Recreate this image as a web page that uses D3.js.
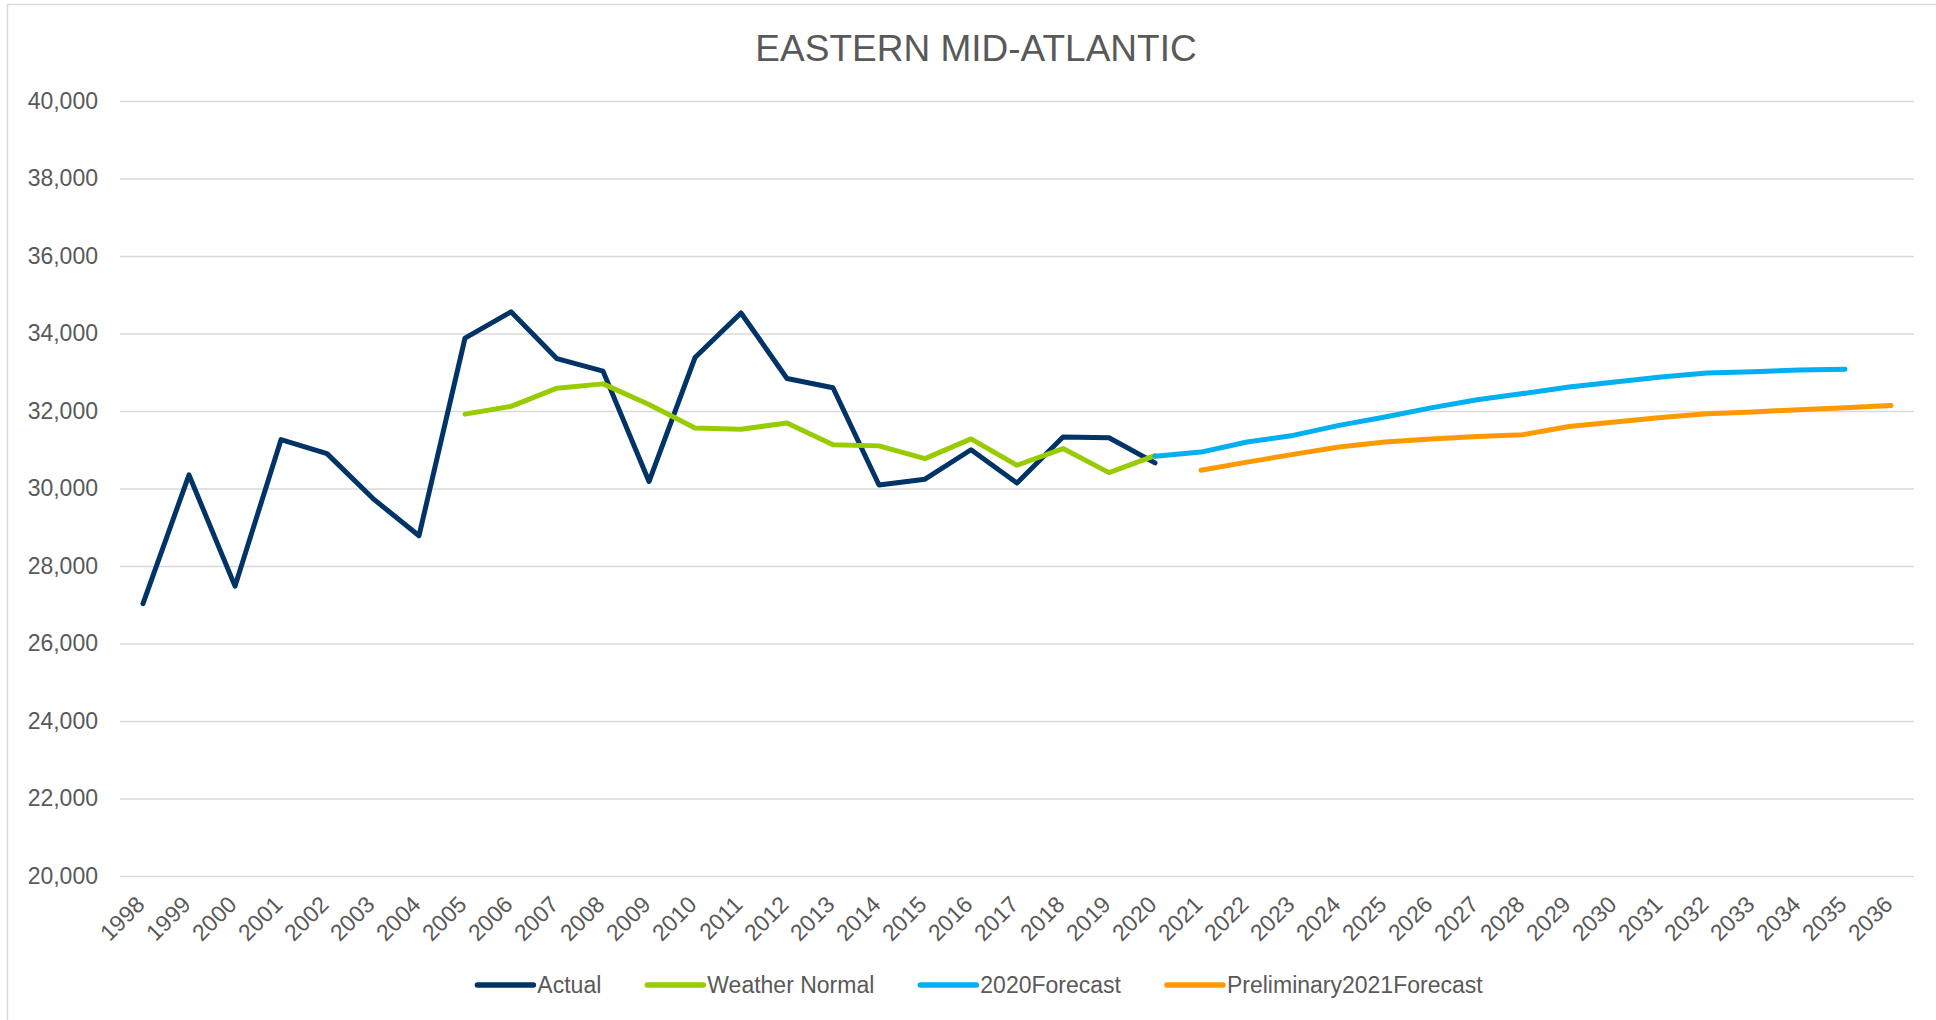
<!DOCTYPE html>
<html>
<head>
<meta charset="utf-8">
<script src="https://cdn.jsdelivr.net/npm/d3@7"></script>
<style>
  body { margin: 0; background: #fff; }
  text { font-family: "Liberation Sans", Arial, sans-serif; fill: #595959; }
</style>
</head>
<body>
<div id="chartArea"></div>
<script>
// Data
const years = ["1998", "1999", "2000", "2001", "2002", "2003", "2004", "2005", "2006", "2007",
    "2008", "2009", "2010", "2011", "2012", "2013", "2014", "2015", "2016", "2017",
    "2018", "2019", "2020", "2021", "2022", "2023", "2024", "2025", "2026", "2027",
    "2028", "2029", "2030", "2031", "2032", "2033", "2034", "2035", "2036"];

// 1998 - 2020
const actual = [27030, 30350, 27480, 31260, 30900, 29740, 28780, 33880, 34560, 33350,
    33030, 30180, 33380, 34530, 32840, 32600, 30090, 30240, 31000, 30140,
    31330, 31310, 30660];

// 2005 - 2020
const weatherNormal = [31920, 32120, 32590, 32700, 32170, 31560, 31530, 31690, 31130, 31100,
    30770, 31280, 30600, 31030, 30410, 30850];

// 2020 - 2035
const forecast2020 = [30830, 30940, 31200, 31370, 31630, 31845, 32080, 32290, 32450, 32620,
    32750, 32880, 32980, 33010, 33060, 33080];

// 2021 - 2036
const prelim2021 = [30470, 30680, 30880, 31070, 31200, 31280, 31345, 31390, 31600, 31715,
    31830, 31930, 31975, 32035, 32085, 32140];

const yTicks = [20000, 22000, 24000, 26000, 28000, 30000, 32000, 34000, 36000, 38000, 40000];

const series = [
    { name: "Actual", start: "1998", values: actual, color: "#003366" },
    { name: "Weather Normal", start: "2005", values: weatherNormal, color: "#99CC00" },
    { name: "2020Forecast", start: "2020", values: forecast2020, color: "#00B0F0" },
    { name: "Preliminary2021Forecast", start: "2021", values: prelim2021, color: "#FF9900" }
];

// Dimensions
const width = 1936,
    height = 1020,
    margin = { top: 101, left: 120, right: 22, bottom: 144 };

const x = d3.scaleBand()
    .domain(years)
    .range([margin.left, width - margin.right])
    .padding(0);

const y = d3.scaleLinear()
    .domain([20000, 40000])
    .range([height - margin.bottom, margin.top]);

const svg = d3.select("#chartArea")
    .append("svg")
    .attr("width", width)
    .attr("height", height);

svg.append("rect")
    .attr("width", width)
    .attr("height", height)
    .attr("fill", "#fff");

// chart area border (cropped)
svg.append("rect")
    .attr("x", 7.5)
    .attr("y", 4.5)
    .attr("width", 2000)
    .attr("height", 1100)
    .attr("fill", "none")
    .attr("stroke", "#D9D9D9")
    .attr("stroke-width", 1.5);

// Title
svg.append("text")
    .attr("x", 976)
    .attr("y", 61)
    .attr("text-anchor", "middle")
    .style("font-size", "37px")
    .text("EASTERN MID-ATLANTIC");

// Y axis with gridlines
const yAxis = g => g.attr("transform", `translate(${margin.left},0)`)
    .call(d3.axisLeft(y)
        .tickValues(yTicks)
        .tickSize(-(width - margin.left - margin.right))
        .tickPadding(22)
        .tickFormat(d3.format(",")))
    .call(g => g.select(".domain").remove())
    .call(g => g.selectAll(".tick line").attr("stroke", "#D9D9D9").attr("stroke-width", 1.7))
    .call(g => g.selectAll(".tick text")
        .attr("fill", "#595959")
        .style("font-size", "23px")
        .style("font-family", "'Liberation Sans', Arial, sans-serif"));

svg.append("g").call(yAxis);

// X axis labels (rotated)
const xAxis = g => g.attr("transform", `translate(0,${height - margin.bottom})`)
    .call(d3.axisBottom(x).tickSize(0).tickPadding(0))
    .call(g => g.select(".domain").remove())
    .call(g => g.selectAll(".tick text")
        .attr("fill", "#595959")
        .attr("text-anchor", "end")
        .attr("dy", 0)
        .attr("y", 0)
        .attr("transform", "translate(3,30) rotate(-45)")
        .style("font-size", "23px")
        .style("font-family", "'Liberation Sans', Arial, sans-serif"));

svg.append("g").call(xAxis);

// Lines
const line = d3.line()
    .x(d => x(d.year) + x.bandwidth() / 2)
    .y(d => y(d.value));

series.forEach(s => {
    const i0 = years.indexOf(s.start);
    const pts = s.values.map((v, i) => ({ year: years[i0 + i], value: v }));
    svg.append("path")
        .datum(pts)
        .attr("fill", "none")
        .attr("stroke", s.color)
        .attr("stroke-width", 5)
        .attr("stroke-linejoin", "round")
        .attr("stroke-linecap", "round")
        .attr("d", line);
});

// Legend
const legend = svg.append("g").attr("id", "legend");
let lx = 0;
series.forEach(s => {
    const g = legend.append("g");
    g.append("line")
        .attr("x1", 0).attr("x2", 56)
        .attr("y1", 0).attr("y2", 0)
        .attr("stroke", s.color)
        .attr("stroke-width", 5.5)
        .attr("stroke-linecap", "round");
    const t = g.append("text")
        .attr("x", 60)
        .attr("y", 8)
        .style("font-size", "23px")
        .text(s.name);
    const w = 60 + t.node().getComputedTextLength();
    g.attr("transform", `translate(${lx},0)`);
    lx += w + 46;
});
const legendWidth = lx - 46;
legend.attr("transform", `translate(${980 - legendWidth / 2},985)`);
</script>
</body>
</html>
